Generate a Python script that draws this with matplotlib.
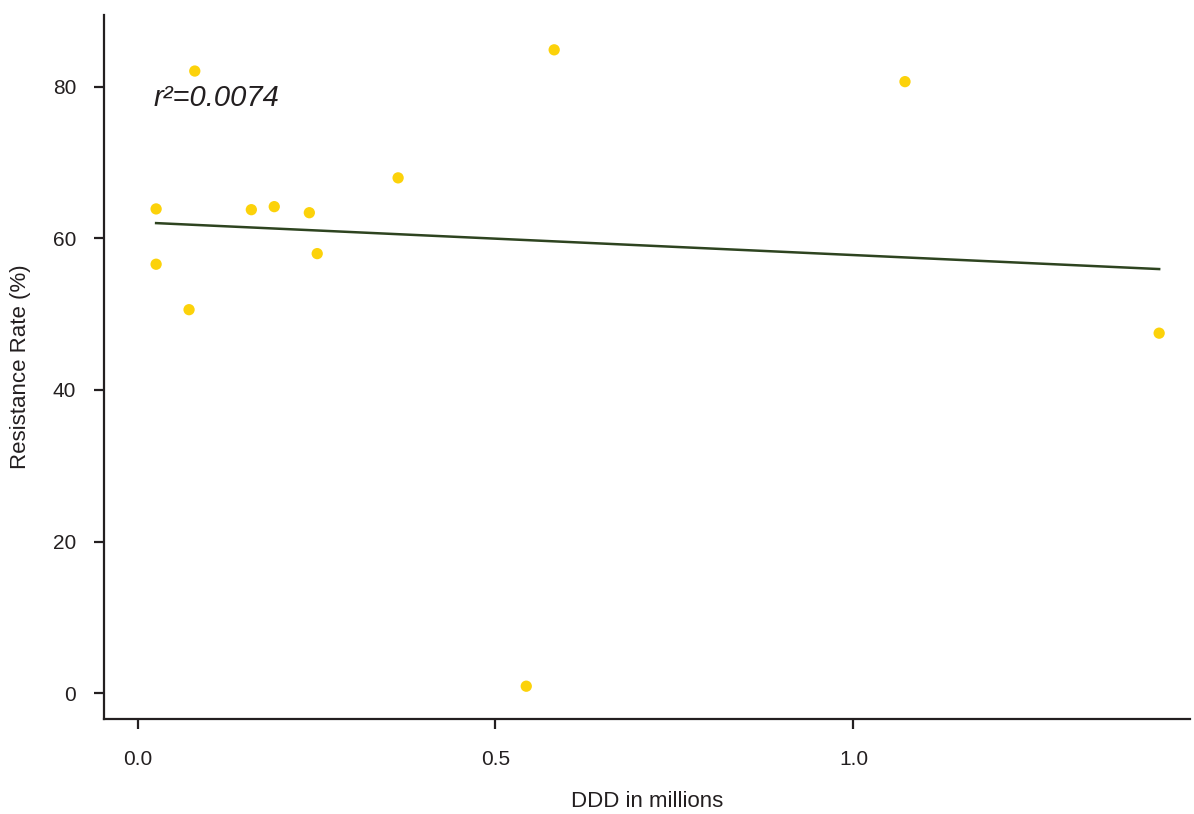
import matplotlib
matplotlib.use("Agg")
import matplotlib.pyplot as plt
import numpy as np

plt.rcParams['font.family'] = ['Liberation Sans', 'DejaVu Sans']

ddd_millions = [0.026, 0.026, 0.080, 0.072, 0.159, 0.191, 0.240, 0.251, 0.364, 0.543, 0.582, 1.072, 1.427]
resistance_rate = [63.9, 56.6, 82.1, 50.6, 63.8, 64.2, 63.4, 58.0, 68.0, 0.9, 84.9, 80.7, 47.5]
fit_intercept = 62.14
fit_slope = -4.33
r2_label = "r²=0.0074"
x_ticks = [0.0, 0.5, 1.0]
x_ticklabels = ["0.0", "0.5", "1.0"]
y_ticks = [0, 20, 40, 60, 80]
y_ticklabels = ["0", "20", "40", "60", "80"]

fig = plt.figure(figsize=(11.94, 8.14), dpi=100)
ax = fig.add_axes([0.0871, 0.1167, 0.9095, 0.8649])

ax.scatter(ddd_millions, resistance_rate, s=66, color='#fcd20a', edgecolors='none', zorder=3)
xl = np.array([min(ddd_millions), max(ddd_millions)])
ax.plot(xl, fit_intercept + fit_slope * xl, color='#2e4420', lw=1.8, zorder=2)

ax.set_xlim(-0.0468, 1.470)
ax.set_ylim(-3.43, 89.5)
ax.set_xticks(x_ticks)
ax.set_xticklabels(x_ticklabels)
ax.set_yticks(y_ticks)
ax.set_yticklabels(y_ticklabels)

for s in ['top', 'right']:
    ax.spines[s].set_visible(False)
for s in ['left', 'bottom']:
    ax.spines[s].set_linewidth(1.6)
    ax.spines[s].set_color('#231f20')

ax.tick_params(axis='x', length=7, width=1.6, color='#231f20', pad=15, labelsize=15, labelcolor='#231f20')
ax.tick_params(axis='y', length=7, width=1.6, color='#231f20', pad=13, labelsize=15, labelcolor='#231f20')

ax.set_xlabel("DDD in millions", fontsize=16, color='#231f20', labelpad=16)
ax.set_ylabel("Resistance Rate (%)", fontsize=16, color='#231f20', labelpad=16)

ax.text(0.0225, 77.5, r2_label, fontsize=21, style='italic', color='#231f20',
        ha='left', va='baseline')

fig.savefig("out.png", dpi=100)
